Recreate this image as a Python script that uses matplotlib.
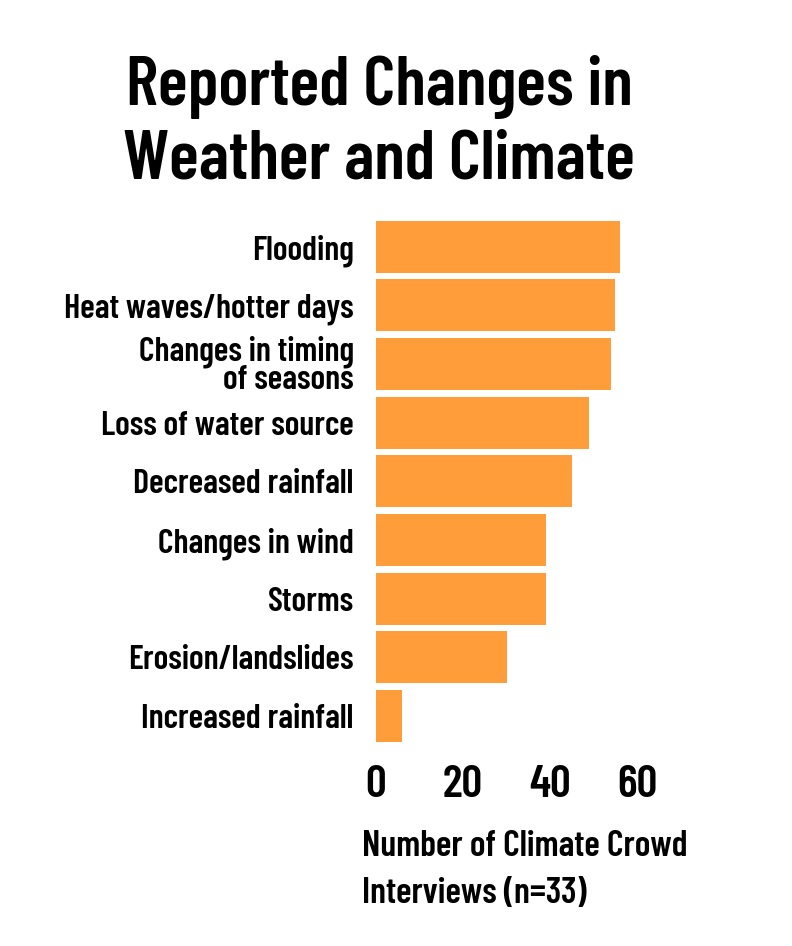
import matplotlib
matplotlib.use("Agg")
import matplotlib.pyplot as plt

categories = ["Flooding", "Heat waves/hotter days", "Changes in timing\nof seasons",
              "Loss of water source", "Decreased rainfall", "Changes in wind",
              "Storms", "Erosion/landslides", "Increased rainfall"]
values = [56, 55, 54, 49, 45, 39, 39, 30, 6]
ticks = [0, 20, 40, 60]
title = "Reported Changes in\nWeather and Climate"
xlabel = "Number of Climate Crowd\nInterviews (n=33)"

plt.rcParams["font.family"] = ["Barlow Condensed", "DejaVu Sans"]
W = 600

fig = plt.figure(figsize=(7.92, 9.46), dpi=100)
ax = fig.add_axes([376 / 792, 1 - 745.3 / 946, 304.5 / 792, (745.3 - 217.5) / 946])
y = list(range(len(categories)))
ax.barh(y, values, height=0.886, color="#FF9D3A", edgecolor="none")
ax.set_ylim(len(categories) - 0.5, -0.5)
ax.set_xlim(0, 70)
ax.set_yticks(y)
ax.set_yticklabels(categories, fontsize=24.5, fontweight=W, linespacing=0.85)
ax.set_xticks(ticks)
ax.set_xticklabels([str(t) for t in ticks], fontsize=33, fontweight=W)
ax.tick_params(axis="y", length=0, pad=16)
ax.tick_params(axis="x", length=0, pad=14)
for s in ax.spines.values():
    s.set_visible(False)

fig.text(379 / 792, 1 - 55 / 946, title, ha="center", va="top", fontsize=50,
         fontweight=W, linespacing=1.22)
fig.text(362 / 792, 1 - 830 / 946, xlabel, ha="left", va="top", fontsize=26,
         fontweight=W, linespacing=1.55)

fig.savefig("out.png", dpi=100)
